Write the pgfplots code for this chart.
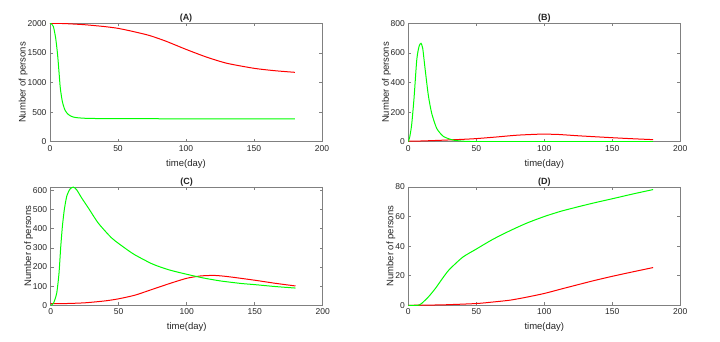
\documentclass[border=0pt]{standalone}
\usepackage{pgfplots}
\pgfplotsset{compat=1.18}
\usepackage{fontspec}
\setmainfont{Liberation Sans}
\definecolor{txt}{RGB}{38,38,38}
\definecolor{ax}{RGB}{128,128,128}
\definecolor{mygreen}{RGB}{0,255,0}
\definecolor{myred}{RGB}{255,0,0}
\pgfplotsset{
  panel/.style={
    scale only axis, width=272pt, height=118.4pt, anchor=south west,
    xmin=0, xmax=200, xtick={0,50,100,150,200},
    axis line style={ax, line width=0.5pt},
    tick style={ax, line width=0.5pt}, major tick length=3pt,
    tick align=inside, tick pos=both,
    tick label style={font=\fontsize{8.5}{9}\selectfont, txt},
    /pgf/number format/assume math mode=true,
    /pgf/number format/1000 sep={},
    scaled ticks=false,
    xlabel={time(day)}, ylabel={Number of persons},
    label style={font=\fontsize{9.5}{10}\selectfont, txt},
    xlabel style={yshift=-1pt},
    ylabel style={yshift=-7pt},
    title style={font=\fontsize{9}{10}\selectfont\bfseries, txt, yshift=-8.5pt},
    every axis plot/.append style={line width=1pt, no marks, smooth, tension=0.4},
  }
}
\begin{document}
\begin{tikzpicture}
\useasboundingbox (0,0) rectangle (720pt,-341pt);
% (A)
\begin{axis}[panel, at={(50pt,-141.7pt)}, title={(A)}, ymin=0, ymax=2000, ytick={0,500,1000,1500,2000}]
\addplot[myred] coordinates {(0,2000) (10,1996) (25,1977) (40,1945) (50,1915) (61,1862) (73,1795) (85,1700) (100,1560) (115,1430) (130,1325) (150,1240) (165,1200) (180,1172)};
\addplot[mygreen] coordinates {(0,2000) (1,1990) (2.5,1944) (4.2,1746) (5.6,1465) (6.6,1183) (7.6,901) (9.1,676) (11,535) (13,470) (14.7,440) (17,418) (19.6,406) (24,398) (28,394) (40,390) (55,389) (100,387) (180,386)};
\end{axis}
% (B)
\begin{axis}[panel, at={(408.3pt,-141.7pt)}, title={(B)}, ymin=0, ymax=800, ytick={0,200,400,600,800}]
\addplot[myred] coordinates {(0,3) (10,5) (25,10) (40,16) (50,21) (65,32) (80,44) (97,51) (110,49) (125,40) (150,27) (165,20) (180,14)};
\addplot[mygreen] coordinates {(0,0) (1,30) (2.45,113) (4.2,293) (6.1,541) (7.2,615) (8.1,649) (9.3,665) (10.6,631) (12.3,496) (14.7,315) (17.2,192) (20.9,90) (25.8,36) (33,11) (43,2) (60,0.5) (100,0) (180,0)};
\end{axis}
% (C)
\begin{axis}[panel, at={(50.7pt,-305.3pt)}, title={(C)}, ymin=0, ymax=618, ytick={0,100,200,300,400,500,600}]
\addplot[myred] coordinates {(0,9) (10,9) (25,13) (40,23) (50,34) (62,53) (75,84) (88,115) (100,141) (110,153) (120,156) (130,150) (150,131) (165,115) (180,101)};
\addplot[mygreen] coordinates {(0,0) (2,10) (4.4,63) (6.1,167) (7.4,307) (8.6,412) (10,499) (11.8,569) (14.2,607) (16.7,617) (19.1,603) (22.8,560) (27.7,508) (35,429) (44.9,351) (54.7,298) (62,263) (75,215) (87,185) (100,162) (112,143) (125,127) (140,114) (150,108) (165,98) (180,90)};
\end{axis}
% (D)
\begin{axis}[panel, at={(408.3pt,-305.3pt)}, title={(D)}, ymin=0, ymax=80, ytick={0,20,40,60,80}]
\addplot[myred] coordinates {(0,0) (25,0.3) (50,1.2) (62,2.2) (75,3.5) (87,5.5) (100,8) (112,10.9) (125,14) (137,16.8) (150,19.6) (165,22.6) (180,25.5)};
\addplot[mygreen] coordinates {(0,0) (7,0) (8,0.3) (10,1.4) (15,5.9) (20,11.5) (25,18) (30,24) (40,32.5) (50,38) (62,44.5) (75,50.5) (87,55.5) (100,60) (112,63.5) (125,66.6) (137,69.3) (150,72) (165,75.2) (180,78.2)};
\end{axis}
\end{tikzpicture}
\end{document}
